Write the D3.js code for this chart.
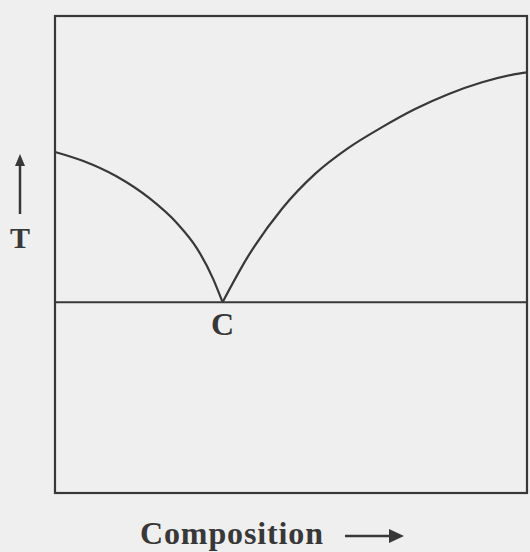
<!DOCTYPE html>
<html>
<head>
<meta charset="utf-8">
<script src="https://cdn.jsdelivr.net/npm/d3@7"></script>
<style>
  body { margin: 0; background: #efefef; }
  svg { display: block; }
</style>
</head>
<body>
<div class="d3-chart"></div>
<script>
// liquidus curves, composition (0-100) vs T (arbitrary 0-100)
const leftComp  = [0, 6, 13, 20, 26, 30, 33.5, 35.5];
const leftT     = [71.5, 69.6, 66.4, 61.8, 56.4, 51.4, 44.9, 40];
const rightComp = [35.5, 40.9, 48.1, 55.1, 62.1, 69.3, 76.3, 83.3, 90.5, 97.5, 100];
const rightT    = [40, 49.6, 59.6, 66.9, 72.3, 76.7, 80.5, 83.6, 86.1, 87.8, 88.2];
const eutectic  = {comp: 35.5, T: 40, label: "C"};
const xLabel = "Composition";
const yLabel = "T";

const width = 530, height = 552;
const box = {left: 55, right: 527, top: 16, bottom: 493};
const ink = "#383838";

const svg = d3.select(".d3-chart")
  .append("svg")
  .attr("width", width)
  .attr("height", height);

svg.append("rect")
  .attr("width", width).attr("height", height)
  .attr("fill", "#efefef");

const x = d3.scaleLinear().domain([0, 100]).range([box.left, box.right]);
const y = d3.scaleLinear().domain([0, 100]).range([box.bottom, box.top]);

// frame
svg.append("rect")
  .attr("x", x(0)).attr("y", y(100))
  .attr("width", x(100) - x(0)).attr("height", y(0) - y(100))
  .attr("fill", "none")
  .attr("stroke", ink)
  .attr("stroke-width", 2.2);

// eutectic temperature line
svg.append("line")
  .attr("x1", x(0)).attr("x2", x(100))
  .attr("y1", y(eutectic.T)).attr("y2", y(eutectic.T))
  .attr("stroke", ink)
  .attr("stroke-width", 2);

const line = d3.line()
  .x(d => x(d[0]))
  .y(d => y(d[1]))
  .curve(d3.curveMonotoneX);

const curves = [
  d3.zip(leftComp, leftT),
  d3.zip(rightComp, rightT)
];

svg.selectAll(".curve")
  .data(curves)
  .join("path")
  .attr("class", "curve")
  .attr("fill", "none")
  .attr("stroke", ink)
  .attr("stroke-width", 2.2)
  .attr("d", line);

const font = "'Liberation Serif', 'DejaVu Serif', serif";

// eutectic label
svg.append("text")
  .attr("x", x(eutectic.comp))
  .attr("y", y(eutectic.T) + 33)
  .attr("text-anchor", "middle")
  .attr("font-family", font)
  .attr("font-weight", "bold")
  .attr("font-size", 32)
  .attr("fill", ink)
  .text(eutectic.label);

// x label with arrow
svg.append("text")
  .attr("x", 140)
  .attr("y", 544)
  .attr("font-family", font)
  .attr("font-weight", "bold")
  .attr("font-size", 32)
  .attr("textLength", 183)
  .attr("fill", ink)
  .text(xLabel);

svg.append("line")
  .attr("x1", 345).attr("x2", 398)
  .attr("y1", 536).attr("y2", 536)
  .attr("stroke", ink).attr("stroke-width", 2.5);
svg.append("path")
  .attr("d", "M389,529 L404,536 L389,543 Z")
  .attr("fill", ink);

// y label with arrow
svg.append("line")
  .attr("x1", 20).attr("x2", 20)
  .attr("y1", 214).attr("y2", 162)
  .attr("stroke", ink).attr("stroke-width", 2.5);
svg.append("path")
  .attr("d", "M15,166 L20,154 L25,166 Z")
  .attr("fill", ink);

svg.append("text")
  .attr("x", 20)
  .attr("y", 248)
  .attr("text-anchor", "middle")
  .attr("font-family", font)
  .attr("font-weight", "bold")
  .attr("font-size", 30)
  .attr("fill", ink)
  .text(yLabel);
</script>
</body>
</html>
